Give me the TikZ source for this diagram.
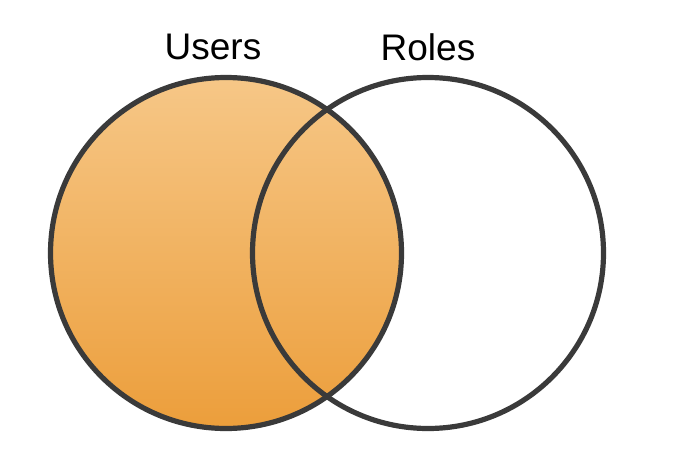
\documentclass[tikz,border=0pt]{standalone}
\usepackage{fontspec}
\setmainfont{Liberation Sans}
\usepackage{tikz}
\usetikzlibrary{positioning}
\definecolor{ink}{HTML}{3A3A3A}
\definecolor{orangetop}{HTML}{F6C787}
\definecolor{orangebot}{HTML}{EC9E3B}

\begin{document}
\begin{tikzpicture}[
  x=0.5pt,y=-0.5pt,
  every node/.style={font=\fontsize{18.5}{22}\selectfont,text=black},
  set/.style={circle,minimum size=175.5pt,inner sep=0pt,line width=2.6pt,draw=ink},
  filled/.style={top color=orangetop,bottom color=orangebot}
]
\useasboundingbox (0,0) rectangle (690,460);
\node[set,filled] (U) at (226,253) {};
\node[set] (R) at (428,253) {};
\node (Ulabel) at (213,47) {Users};
\node (Rlabel) at (428,47) {Roles};
\end{tikzpicture}
\end{document}
